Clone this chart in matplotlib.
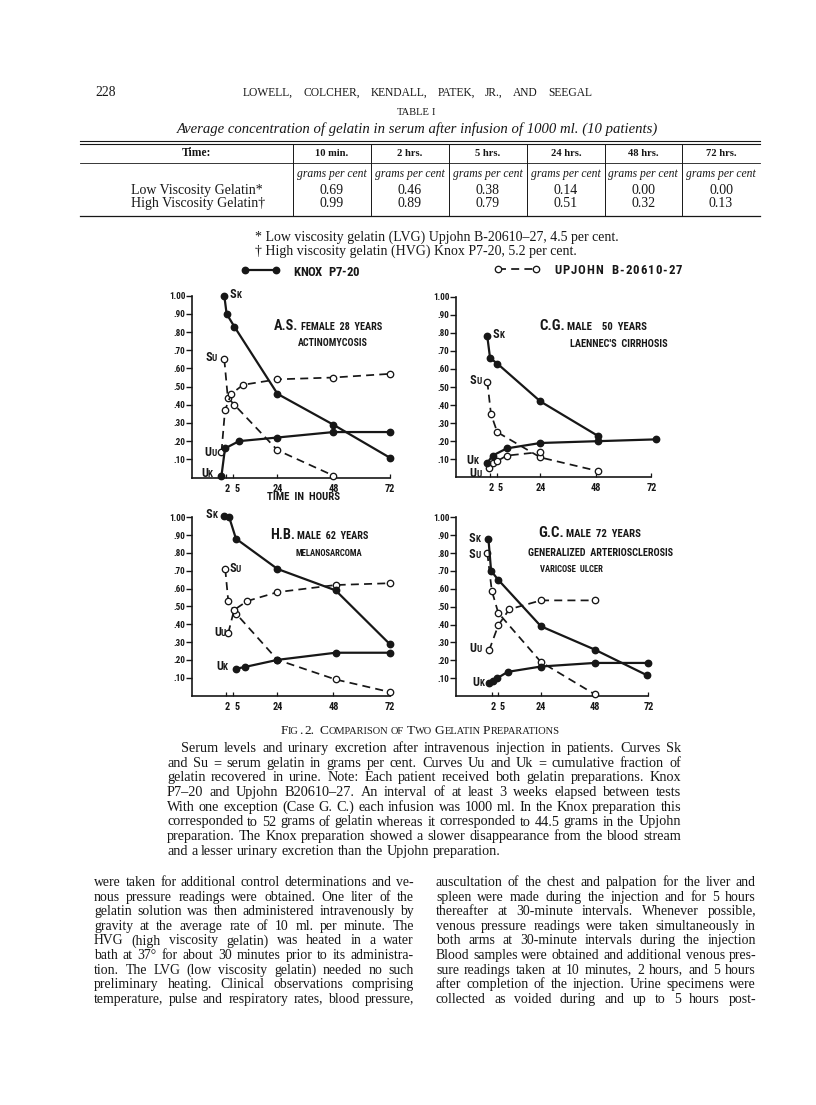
import numpy as np
import matplotlib
matplotlib.use('Agg')
import matplotlib.pyplot as plt
from matplotlib import font_manager

W, H = 816, 1105

# Table I: average serum gelatin (grams per cent), 10 patients
table_times = ['10 min.', '2 hrs.', '5 hrs.', '24 hrs.', '48 hrs.', '72 hrs.']
low_visc = [0.69, 0.46, 0.38, 0.14, 0.00, 0.00]
high_visc = [0.99, 0.89, 0.79, 0.51, 0.32, 0.13]

# Fig. 2, time in hours; Sk/Su serum gelatin, Uk/Uu urine fraction
# A.S. female 28 years
as_sk_t = [1.2, 2.2, 5.5, 24, 48, 72]
as_sk = [1.00, 0.90, 0.83, 0.46, 0.29, 0.11]
as_su_t = [1.2, 2.7, 5.5, 24, 48]
as_su = [0.65, 0.44, 0.40, 0.15, 0.01]
as_uu_t = [0, 1.5, 4.2, 9.3, 24, 48, 72]
as_uu = [0.14, 0.37, 0.46, 0.51, 0.54, 0.55, 0.57]
as_uk_t = [0, 1.5, 7.5, 24, 48, 72]
as_uk = [0.01, 0.16, 0.20, 0.22, 0.25, 0.25]

# C.G. male 50 years
cg_sk_t = [1.0, 2.2, 5.3, 24, 48.8]
cg_sk = [0.78, 0.66, 0.63, 0.42, 0.23]
cg_su_t = [1.0, 2.6, 5.3, 24, 48.8]
cg_su = [0.53, 0.35, 0.25, 0.11, 0.035]
cg_uu_t = [1.6, 3.6, 5.3, 9.4, 24]
cg_uu = [0.05, 0.08, 0.09, 0.12, 0.14]
cg_uk_t = [1.0, 3.3, 9.4, 24, 48.8, 74]
cg_uk = [0.08, 0.12, 0.16, 0.19, 0.20, 0.21]

# H.B. male 62 years
hb_sk_t = [1.2, 3.3, 6.2, 24, 48.9, 72]
hb_sk = [1.01, 1.00, 0.88, 0.71, 0.59, 0.29]
hb_su_t = [1.6, 2.9, 6.2, 24, 48.9, 72]
hb_su = [0.71, 0.53, 0.46, 0.20, 0.09, 0.02]
hb_uu_t = [2.9, 5.4, 11, 24, 48.9, 72]
hb_uu = [0.35, 0.48, 0.53, 0.58, 0.62, 0.63]
hb_uk_t = [6.2, 10, 24, 48.9, 72]
hb_uk = [0.15, 0.16, 0.20, 0.24, 0.24]

# G.C. male 72 years
gc_sk_t = [0.5, 1.7, 4.9, 24, 48, 71.6]
gc_sk = [0.88, 0.70, 0.65, 0.39, 0.26, 0.115]
gc_su_t = [0, 2.0, 4.9, 24, 48]
gc_su = [0.80, 0.59, 0.465, 0.19, 0.01]
gc_uu_t = [0.8, 4.9, 9.8, 24, 48]
gc_uu = [0.255, 0.395, 0.485, 0.535, 0.535]
gc_uk_t = [0.9, 2.7, 4.5, 9.1, 24, 48, 72]
gc_uk = [0.07, 0.085, 0.10, 0.135, 0.165, 0.185, 0.185]

names = {f.name for f in font_manager.fontManager.ttflist}


def pick(options, default):
    for o in options:
        if o in names:
            return o
    return default


SERIF = pick(['Liberation Serif', 'DejaVu Serif'], 'serif')
SANS = pick(['Liberation Sans Narrow', 'DejaVu Sans Condensed', 'Roboto Condensed'], 'DejaVu Sans')
INK = '#171717'

fig = plt.figure(figsize=(W / 100, H / 100), dpi=100)
R = fig.canvas.get_renderer()


def fx(x):
    return x / W


def fy(y):
    return 1 - y / H


def txt(x, y, s, size, family=SERIF, ha='left', **kw):
    return fig.text(fx(x), fy(y), s, fontsize=size, family=family, ha=ha,
                    va='baseline', color=INK, **kw)


def twidth(s, size, family=SERIF, **kw):
    if s.strip() == '':
        return len(s) * (twidth('x x', size, family, **kw) - twidth('xx', size, family, **kw))
    t = fig.text(0, 0, s, fontsize=size, family=family, **kw)
    w = t.get_window_extent(R).width
    t.remove()
    return w


def parts_text(parts, x0, y, size, family=SERIF, x1=None, ha='left', **kw):
    # parts: (string, relative size); scaled to fit x0..x1 when x1 is given
    ws = [twidth(s, size * r, family, **kw) for s, r in parts]
    if x1 is not None:
        k = (x1 - x0) / sum(ws)
        size *= k
        ws = [w * k for w in ws]
    x = x0 if ha == 'left' else x0 - sum(ws) / 2
    for (s, r), w in zip(parts, ws):
        if s.strip():
            txt(x, y, s, size * r, family, **kw)
        x += w


def fit(s, x0, x1, y, family=SERIF, **kw):
    parts_text([(s, 1.0)], x0, y, 10, family, x1=x1, **kw)


def tracked(s, x0, x1, y, size, family=SERIF, **kw):
    # letter-spaced text stretched to x0..x1 without changing the size
    bar = twidth('|', size, family, **kw)
    pos = [0.0] + [twidth(s[:i] + '|', size, family, **kw) - bar for i in range(1, len(s))]
    extra = (x1 - x0 - twidth(s, size, family, **kw)) / (len(s) - 1)
    for i, ch in enumerate(s):
        if ch != ' ':
            txt(x0 + pos[i] + extra * i, y, ch, size, family, **kw)


def smallcaps(s, small=0.78):
    parts = []
    for i, word in enumerate(s.split(' ')):
        if i:
            parts.append((' ', small))
        run, up = '', None
        for ch in word:
            u = not ch.islower()
            if up is not None and u != up:
                parts.append((run.upper(), 1.0 if up else small))
                run = ''
            run += ch
            up = u
        if run:
            parts.append((run.upper(), 1.0 if up else small))
    return parts


def justify(line, x0, x1, y, size, family=SERIF, last=False, **kw):
    words = line.split()
    ws = [twidth(w, size, family, **kw) for w in words]
    if last or len(words) == 1:
        gap = twidth(' ', size, family, **kw)
    else:
        gap = (x1 - x0 - sum(ws)) / (len(words) - 1)
    x = x0
    for w, wd in zip(words, ws):
        txt(x, y, w, size, family, **kw)
        x += wd + gap


def block_size(lines, x0s, x1):
    ratios = []
    for line, x0 in zip(lines, x0s):
        natural = sum(twidth(w, 10) for w in line.split()) + twidth(' ', 10) * (len(line.split()) - 1)
        ratios.append((x1 - x0) / natural)
    return 10 * min(ratios) * 0.995


# ---------------- page header ----------------
txt(95, 96, '228', 9.8)
justify('LOWELL,  COLCHER,  KENDALL,  PATEK,  JR.,  AND  SEEGAL', 243, 592, 96, 8.3)
parts_text(smallcaps('TABLE I'), 416, 115, 7.6, ha='center')
txt(417, 132.5, 'Average concentration of gelatin in serum after infusion of 1000 ml. (10 patients)',
    10.6, ha='center', style='italic')

# ---------------- table I ----------------
tl, tr = 80, 760
col_edges = [293, 371, 449, 527, 605, 682, tr]
for yy, lw in [(140.5, 0.8), (143.5, 0.8), (163, 0.6), (215.5, 0.9)]:
    fig.add_artist(plt.Line2D([fx(tl), fx(tr)], [fy(yy), fy(yy)], transform=fig.transFigure,
                              color=INK, lw=lw))
for xe in col_edges[:-1]:
    fig.add_artist(plt.Line2D([fx(xe), fx(xe)], [fy(144), fy(215)], transform=fig.transFigure,
                              color=INK, lw=0.7))
txt(196, 156, 'Time:', 8.4, weight='bold', ha='center')
for i, lab in enumerate(table_times):
    c = (col_edges[i] + col_edges[i + 1]) / 2
    txt(c, 156, lab, 7.6, weight='bold', ha='center')
    fit('grams per cent', c - 35, c + 35, 177.5, style='italic')
    txt(c, 194, f'{low_visc[i]:.2f}', 10, ha='center')
    txt(c, 207, f'{high_visc[i]:.2f}', 10, ha='center')
txt(131, 194, 'Low Viscosity Gelatin*', 10)
txt(131, 207, 'High Viscosity Gelatin\u2020', 10)

txt(255, 241, '* Low viscosity gelatin (LVG) Upjohn B-20610\u201327, 4.5 per cent.', 10)
txt(255, 255, '\u2020 High viscosity gelatin (HVG) Knox P7-20, 5.2 per cent.', 10)

# ---------------- fig. 2 panels ----------------
panels = [
    dict(rect=(192, 389.5, 477.5, 295.7), x0=-12.64, zero_tick=True,
         sk=(as_sk_t, as_sk), su=(as_su_t, as_su), uu=(as_uu_t, as_uu), uk=(as_uk_t, as_uk),
         labels={'S K': (230, 298.5), 'S U': (205, 361.5), 'U U': (204, 456), 'U K': (201, 477)},
         title=([('A.S.', 1.0), (' ', 0.72), ('FEMALE  28  YEARS', 0.72)], 274, 382, 330),
         sub=('ACTINOMYCOSIS', 298, 367, 346)),
    dict(rect=(456, 651.3, 477.3, 296.7), x0=-12.55, zero_tick=False,
         sk=(cg_sk_t, cg_sk), su=(cg_su_t, cg_su), uu=(cg_uu_t, cg_uu), uk=(cg_uk_t, cg_uk),
         labels={'S K': (493, 338.5), 'S U': (470, 383.5), 'U K': (466, 464), 'U U': (469, 477)},
         title=([('C.G.', 1.0), (' ', 0.72), ('MALE    50  YEARS', 0.72)], 539, 647, 329.5),
         sub=("LAENNEC'S  CIRRHOSIS", 570, 667, 347)),
    dict(rect=(192, 389.5, 695.5, 517.3), x0=-12.64, zero_tick=False,
         sk=(hb_sk_t, hb_sk), su=(hb_su_t, hb_su), uu=(hb_uu_t, hb_uu), uk=(hb_uk_t, hb_uk),
         labels={'S K': (206, 518.5), 'S U': (229, 571.5), 'U U': (214, 636), 'U K': (216, 670.5)},
         title=([('H.B.', 1.0), (' ', 0.72), ('MALE  62  YEARS', 0.72)], 270, 369, 539),
         sub=('MELANOSARCOMA', 296, 363, 556)),
    dict(rect=(456, 648.3, 696, 517.3), x0=-14.0, zero_tick=False,
         sk=(gc_sk_t, gc_sk), su=(gc_su_t, gc_su), uu=(gc_uu_t, gc_uu), uk=(gc_uk_t, gc_uk),
         labels={'S K': (469, 542.5), 'S U': (469, 557.5), 'U U': (469, 652.5), 'U K': (472, 686.5)},
         title=([('G.C.', 1.0), (' ', 0.72), ('MALE  72  YEARS', 0.72)], 538, 642, 537),
         sub=('GENERALIZED  ARTERIOSCLEROSIS', 528, 672, 556),
         sub2=('VARICOSE  ULCER', 540, 603, 572)),
]

solid = dict(color=INK, lw=1.6, marker='o', ms=4.6, mfc=INK, mec=INK, clip_on=False, zorder=4)
dashed = dict(color=INK, lw=1.25, dashes=(4.6, 3.0), marker='o', ms=4.6, mfc='white', mec=INK,
              mew=0.95, clip_on=False, zorder=3)

handles = None
for p in panels:
    l, r, b, t = p['rect']
    ax = fig.add_axes([fx(l), fy(b), (r - l) / W, (b - t) / H])
    ax.patch.set_visible(False)
    ax.set_xlim(p['x0'], 72)
    ax.set_ylim(0, 1)
    for s in ['top', 'right']:
        ax.spines[s].set_visible(False)
    for s in ['left', 'bottom']:
        ax.spines[s].set_linewidth(1.2)
        ax.spines[s].set_color(INK)
    ax.set_yticks(np.round(np.arange(0.1, 1.01, 0.1), 2))
    ax.set_yticklabels(['.10', '.20', '.30', '.40', '.50', '.60', '.70', '.80', '.90', '1.00'])
    ax.tick_params(axis='y', direction='out', length=4, width=1, pad=0.6, labelsize=6.6,
                   colors=INK)
    for lbl in ax.get_yticklabels():
        lbl.set_family(SANS)
        lbl.set_weight('bold')
    xt = [2, 5, 24, 48, 72] + ([0] if p['zero_tick'] else [])
    ax.set_xticks(xt)
    ax.set_xticklabels([])
    ax.tick_params(axis='x', direction='in', length=3.2, width=0.9, colors=INK)
    for xv, s, dx in [(2, '2', 1.5), (5, '5', 3.5), (24, '24', 0), (48, '48', 0), (72, '72', 0)]:
        ax.annotate(s, (xv, 0), xytext=(dx, -11), textcoords='offset pixels', ha='center',
                    va='center', fontsize=7.4, family=SANS, weight='bold', color=INK,
                    annotation_clip=False)

    h_su, = ax.plot(*p['su'], **dashed)
    ax.plot(*p['uu'], **dashed)
    h_sk, = ax.plot(*p['sk'], **solid)
    ax.plot(*p['uk'], **solid)
    if handles is None:
        handles = (h_sk, h_su)

    for key, (x, y) in p['labels'].items():
        a, bb = key.split()
        parts_text([(a, 1.0), (bb, 0.74)], x, y, 8.8, SANS, weight='bold')
    parts, x0, x1, y = p['title']
    parts_text(parts, x0, y, 8, SANS, x1=x1, weight='bold')
    for k in ['sub', 'sub2']:
        if k in p:
            s, x0, x1, y = p[k]
            fit(s, x0, x1, y, SANS, weight='bold')

fit('TIME  IN  HOURS', 267, 340, 500.5, SANS, weight='bold')

# legend keys above the panels, their texts letter-spaced like the print
leg_kw = dict(loc='center left', frameon=False, numpoints=2, borderaxespad=0, borderpad=0,
              handletextpad=0, prop=dict(size=8.6))
fig.legend([handles[0]], [' '], bbox_to_anchor=(fx(241), fy(271)), handlelength=3.2, **leg_kw)
fig.legend([handles[1]], [' '], bbox_to_anchor=(fx(494), fy(270)), handlelength=3.8, **leg_kw)
tracked('KNOX  P7-20', 293, 359, 275.5, 9.2, SANS, weight='bold')
tracked('UPJOHN  B-20610-27', 554, 682, 274.5, 9.2, SANS, weight='bold')

# ---------------- caption ----------------
parts_text(smallcaps('Fig. 2.  Comparison of Two Gelatin Preparations'), 420, 734, 9.6,
           ha='center')

cap_lines = [
    'Serum levels and urinary excretion after intravenous injection in patients.  Curves Sk',
    'and Su = serum gelatin in grams per cent.  Curves Uu and Uk = cumulative fraction of',
    'gelatin recovered in urine.  Note: Each patient received both gelatin preparations.  Knox',
    'P7\u201320 and Upjohn B20610\u201327.  An interval of at least 3 weeks elapsed between tests',
    'With one exception (Case G. C.) each infusion was 1000 ml.  In the Knox preparation this',
    'corresponded to 52 grams of gelatin whereas it corresponded to 44.5 grams in the Upjohn',
    'preparation.  The Knox preparation showed a slower disappearance from the blood stream',
    'and a lesser urinary excretion than the Upjohn preparation.',
]
cap_x0 = [181] + [167] * 7
cap_x1 = 681
cap_size = block_size(cap_lines[:-1], cap_x0[:-1], cap_x1)
for i, line in enumerate(cap_lines):
    justify(line, cap_x0[i], cap_x1, 752 + 14.7 * i, cap_size, last=(i == len(cap_lines) - 1))

# ---------------- body text, two columns ----------------
left_col = [
    'were taken for additional control determinations and ve-',
    'nous pressure readings were obtained.  One liter of the',
    'gelatin solution was then administered intravenously by',
    'gravity at the average rate of 10 ml. per minute.  The',
    'HVG (high viscosity gelatin) was heated in a water',
    'bath at 37\u00b0 for about 30 minutes prior to its administra-',
    'tion.  The LVG (low viscosity gelatin) needed no such',
    'preliminary heating.  Clinical observations comprising',
    'temperature, pulse and respiratory rates, blood pressure,',
]
right_col = [
    'auscultation of the chest and palpation for the liver and',
    'spleen were made during the injection and for 5 hours',
    'thereafter at 30-minute intervals.  Whenever possible,',
    'venous pressure readings were taken simultaneously in',
    'both arms at 30-minute intervals during the injection',
    'Blood samples were obtained and additional venous pres-',
    'sure readings taken at 10 minutes, 2 hours, and 5 hours',
    'after completion of the injection.  Urine specimens were',
    'collected as voided during and up to 5 hours post-',
]
lx0, lx1, rx0, rx1 = 94, 414, 436, 756
body_size = min(block_size(left_col, [lx0] * 9, lx1), block_size(right_col, [rx0] * 9, rx1))
for i, line in enumerate(left_col):
    justify(line, lx0, lx1, 886 + 14.6 * i, body_size)
for i, line in enumerate(right_col):
    justify(line, rx0, rx1, 886 + 14.6 * i, body_size)

fig.savefig('out.png', dpi=100, facecolor='white')
